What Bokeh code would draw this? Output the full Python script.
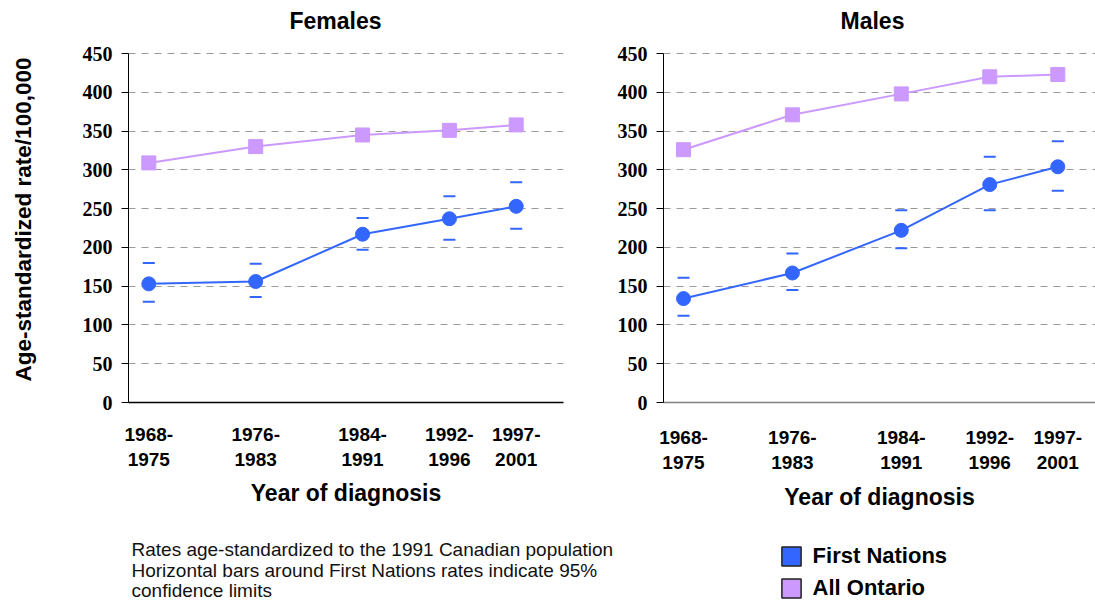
from bokeh.plotting import figure
from bokeh.models import Range1d, FixedTicker, Legend, LegendItem
from bokeh.layouts import column, row
from bokeh.embed import file_html
from bokeh.resources import INLINE
from bokeh.core.properties import value

# ---------------- data ----------------
periods = ["1968-1975", "1976-1983", "1984-1991", "1992-1996", "1997-2001"]
period_mid = [1971.5, 1979.5, 1987.5, 1994.0, 1999.0]

female_first_nations = [153, 156, 217, 237, 253]
female_fn_lower = [130, 136, 197, 210, 224]
female_fn_upper = [180, 179, 238, 266, 284]
female_all_ontario = [309, 330, 345, 351, 358]

male_first_nations = [134, 167, 222, 281, 304]
male_fn_lower = [112, 145, 199, 248, 273]
male_fn_upper = [161, 192, 248, 317, 337]
male_all_ontario = [326, 371, 398, 420, 423]

y_ticks = [0, 50, 100, 150, 200, 250, 300, 350, 400, 450]
series_names = ["First Nations", "All Ontario"]
series_colors = ["#3366FF", "#CC99FF"]

footnote_lines = [
    "Rates age-standardized to the 1991 Canadian population",
    "Horizontal bars around First Nations rates indicate 95%",
    "confidence limits",
]

SANS = "Liberation Sans"
SERIF = "'Liberation Serif', 'Times New Roman', serif"
TEXT = "#000000"
tick_labels = {m: p.replace("-", "-\n") for m, p in zip(period_mid, periods)}


def make_panel(title, fn, lo, hi, on, width, height, x_range, borders,
               title_offset, ylabel, bottom_color, xl_standoff, xa_standoff):
    p = figure(width=width, height=height, x_range=Range1d(*x_range),
               y_range=Range1d(0, 472), toolbar_location=None,
               output_backend="svg", min_border_left=borders[0],
               min_border_right=borders[1], min_border_top=borders[2],
               min_border_bottom=borders[3])
    p.outline_line_color = None
    p.title.text = title
    p.title.align = "left"
    p.title.offset = title_offset
    p.title.text_font = SANS
    p.title.text_font_size = "23px"
    p.title.text_font_style = "bold"
    p.title.text_color = TEXT
    p.title.standoff = 6

    # gridlines
    p.xgrid.visible = False
    p.ygrid.grid_line_color = "#9a9a9a"
    p.ygrid.grid_line_dash = "7 6"
    p.ygrid.grid_line_width = 1

    # y axis
    p.yaxis.ticker = FixedTicker(ticks=y_ticks)
    p.yaxis.bounds = (y_ticks[0], y_ticks[-1])
    p.yaxis.axis_line_color = "black"
    p.yaxis.major_tick_line_color = "black"
    p.yaxis.major_tick_out = 7
    p.yaxis.major_tick_in = 0
    p.yaxis.minor_tick_line_color = None
    p.yaxis.major_label_text_font = SERIF
    p.yaxis.major_label_text_font_style = "bold"
    p.yaxis.major_label_text_font_size = "20px"
    p.yaxis.major_label_text_color = TEXT
    p.yaxis.major_label_standoff = 9
    if ylabel:
        p.yaxis.axis_label = ylabel
        p.yaxis.axis_label_text_font = SANS
        p.yaxis.axis_label_text_font_style = "bold"
        p.yaxis.axis_label_text_font_size = "22.5px"
        p.yaxis.axis_label_text_color = TEXT
        p.yaxis.axis_label_standoff = 44

    # x axis
    p.xaxis.ticker = FixedTicker(ticks=period_mid)
    p.xaxis.major_label_overrides = tick_labels
    p.xaxis.axis_line_color = bottom_color
    p.xaxis.axis_line_width = 1.5
    p.xaxis.major_tick_out = 0
    p.xaxis.major_tick_in = 0
    p.xaxis.minor_tick_line_color = None
    p.xaxis.major_label_text_font = SANS
    p.xaxis.major_label_text_font_style = "bold"
    p.xaxis.major_label_text_font_size = "19px"
    p.xaxis.major_label_text_color = TEXT
    p.xaxis.major_label_standoff = xl_standoff
    p.xaxis.axis_label = "Year of diagnosis"
    p.xaxis.axis_label_text_font = SANS
    p.xaxis.axis_label_text_font_style = "bold"
    p.xaxis.axis_label_text_font_size = "23px"
    p.xaxis.axis_label_text_color = TEXT
    p.xaxis.axis_label_standoff = xa_standoff

    # series
    p.line(period_mid, on, line_color=series_colors[1], line_width=2)
    p.scatter(period_mid, on, marker="square", size=14,
              fill_color=series_colors[1], line_color=series_colors[1])
    p.line(period_mid, fn, line_color=series_colors[0], line_width=2)
    p.scatter(period_mid, fn, marker="circle", size=14,
              fill_color=series_colors[0], line_color=series_colors[0])
    p.scatter(period_mid, lo, marker="dash", size=12, line_width=2,
              line_color=series_colors[0])
    p.scatter(period_mid, hi, marker="dash", size=12, line_width=2,
              line_color=series_colors[0])
    return p


left = make_panel("Females", female_first_nations, female_fn_lower,
                  female_fn_upper, female_all_ontario, 590, 512,
                  (1969.98, 2002.54), (128, 27, 36, 110), 161,
                  "Age-standardized rate/100,000", "black", 21, 7)
right = make_panel("Males", male_first_nations, male_fn_lower,
                   male_fn_upper, male_all_ontario, 505, 512,
                   (1970.03, 2001.77), (73, 0, 36, 110), 177,
                   None, "#808080", 24, 8)

# ---------------- bottom: notes + legend ----------------
bottom = figure(width=1095, height=90, x_range=Range1d(0, 1095),
                y_range=Range1d(90, 0), toolbar_location=None,
                output_backend="svg", x_axis_type=None, y_axis_type=None,
                min_border=0)
bottom.outline_line_color = None
bottom.xgrid.visible = False
bottom.ygrid.visible = False
bottom.text(x=[131, 131, 131], y=[37, 58, 78], text=footnote_lines,
            text_font=value(SANS), text_font_size="19px",
            text_baseline="middle", text_color="#111111")

nan = float("nan")
items = []
for name, col in zip(series_names, series_colors):
    r = bottom.quad(left=[nan], right=[nan], top=[nan], bottom=[nan],
                    fill_color=col, line_color="#222222", line_width=1.5)
    items.append(LegendItem(label=name, renderers=[r]))
legend = Legend(items=items, location=(778.6, 1), orientation="vertical",
                glyph_width=24, glyph_height=24, label_standoff=10,
                spacing=6, padding=0, margin=0, border_line_color=None,
                background_fill_alpha=0, label_text_font=SANS,
                label_text_font_style="bold", label_text_font_size="22px",
                label_text_color=TEXT, label_height=19)
bottom.add_layout(legend)

layout = column(row(left, right), bottom)
open("out.html", "w").write(file_html(layout, INLINE))
